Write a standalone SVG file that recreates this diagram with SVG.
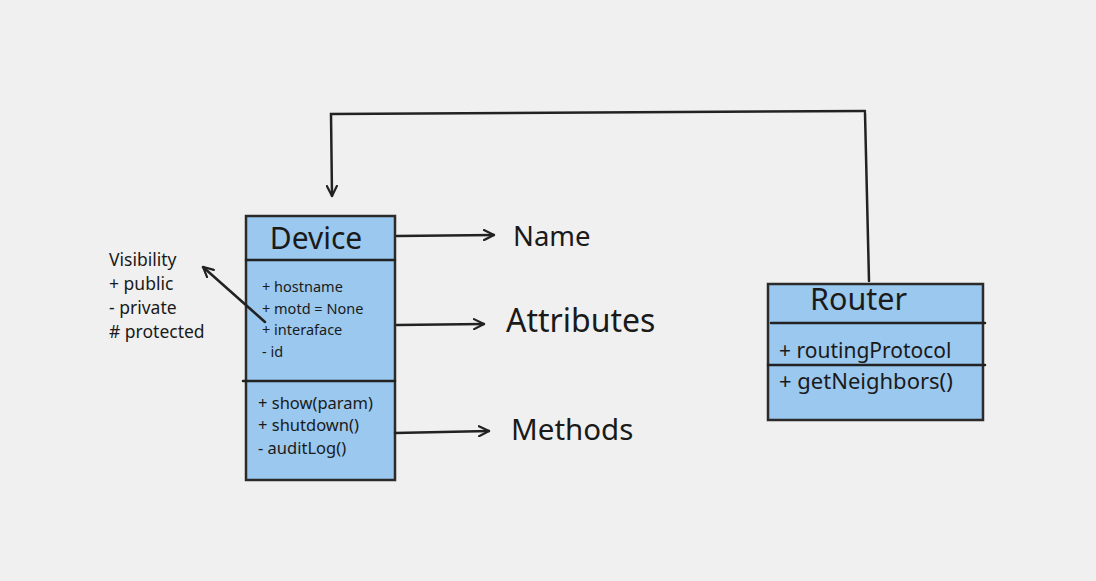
<svg xmlns="http://www.w3.org/2000/svg" width="1096" height="581" viewBox="0 0 1096 581">
<defs>
<style>
.box{fill:#9ac8ee;stroke:#2b2b2b;stroke-width:2.5}
.ln{fill:none;stroke:#222;stroke-width:2.5;stroke-linecap:round}
.t{font-family:"Noto Sans","Liberation Sans",sans-serif;fill:#1a1a1a}
</style>
<marker id="ah" viewBox="0 0 12 12" refX="11" refY="6" markerWidth="12" markerHeight="12" markerUnits="userSpaceOnUse" orient="auto">
<path d="M1,1 L11,6 L1,11" fill="none" stroke="#222" stroke-width="2.2" stroke-linecap="round"/>
</marker>
</defs>
<rect width="1096" height="581" fill="#f0f0f0"/>
<g id="device">
<rect class="box" x="246" y="216" width="149" height="264"/>
<line class="ln" x1="246" y1="260" x2="395" y2="260"/>
<line class="ln" x1="243" y1="381" x2="395" y2="381"/>
<text class="t" x="316" y="249" font-size="30" text-anchor="middle">Device</text>
<text class="t" x="262" y="292" font-size="14.5">+ hostname</text>
<text class="t" x="262" y="314" font-size="14.5">+ motd = None</text>
<text class="t" x="262" y="335" font-size="14.5">+ interaface</text>
<text class="t" x="262" y="357" font-size="14.5">- id</text>
<text class="t" x="258" y="409" font-size="16.5">+ show(param)</text>
<text class="t" x="258" y="431" font-size="16.5">+ shutdown()</text>
<text class="t" x="258" y="454" font-size="16.5">- auditLog()</text>
</g>
<g id="router">
<rect class="box" x="768" y="284" width="215" height="136"/>
<line class="ln" x1="771" y1="323" x2="985" y2="323"/>
<line class="ln" x1="768" y1="365" x2="985" y2="365"/>
<text class="t" x="810" y="310" font-size="30.5">Router</text>
<text class="t" x="779" y="358" font-size="21">+ routingProtocol</text>
<text class="t" x="779" y="389" font-size="22">+ getNeighbors()</text>
</g>
<g id="labels">
<text class="t" x="109" y="266" font-size="17.5">Visibility</text>
<text class="t" x="109" y="290" font-size="17.5">+ public</text>
<text class="t" x="109" y="314" font-size="17.5">- private</text>
<text class="t" x="109" y="338" font-size="17.5"># protected</text>
<text class="t" x="513" y="246" font-size="27.5">Name</text>
<text class="t" x="506" y="332" font-size="32">Attributes</text>
<text class="t" x="511" y="440" font-size="29.5">Methods</text>
</g>
<g id="connectors">
<polyline class="ln" points="865,111 331,114 332,196" marker-end="url(#ah)"/>
<line class="ln" x1="865" y1="113" x2="869" y2="281"/>
<line class="ln" x1="397" y1="236" x2="494" y2="235" marker-end="url(#ah)"/>
<line class="ln" x1="397" y1="325" x2="484" y2="324" marker-end="url(#ah)"/>
<line class="ln" x1="395" y1="433" x2="489" y2="431" marker-end="url(#ah)"/>
<line class="ln" x1="265" y1="322" x2="203" y2="267" marker-end="url(#ah)"/>
</g>
</svg>
